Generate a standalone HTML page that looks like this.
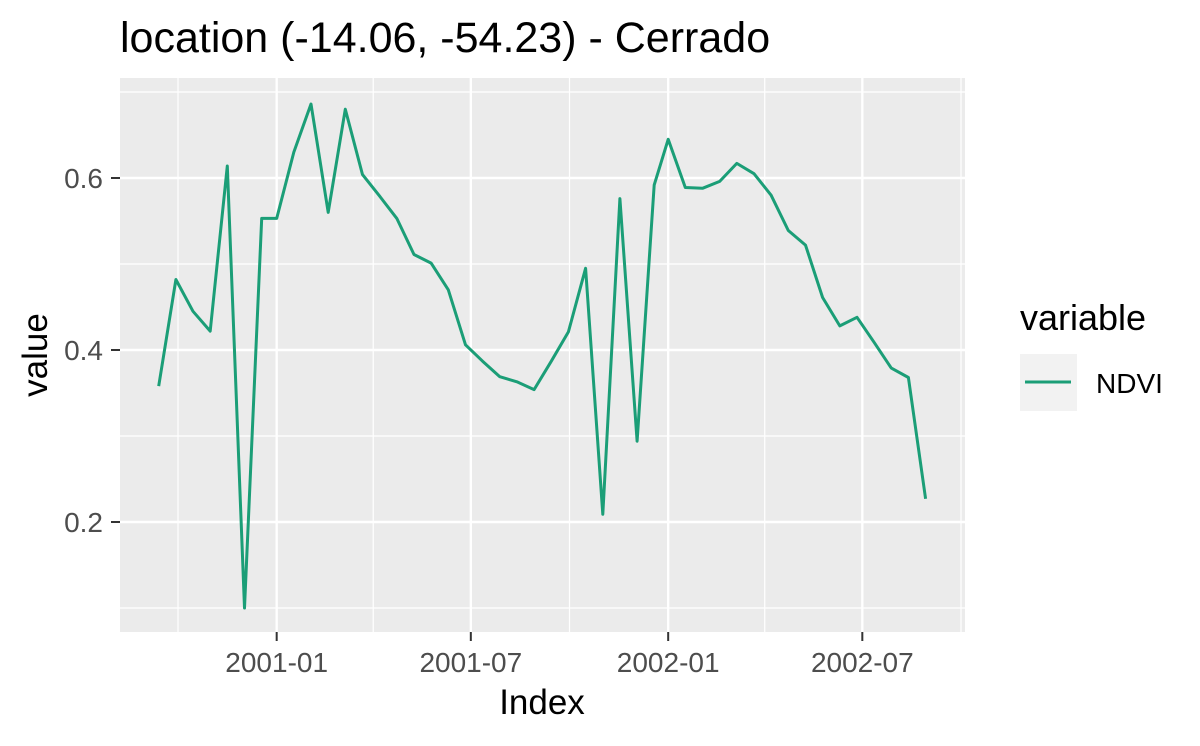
<!DOCTYPE html>
<html><head><meta charset="utf-8"><style>
body{margin:0;background:#fff;}
svg text{font-family:"Liberation Sans",sans-serif;}
</style></head><body>
<svg id="chart" width="1200" height="741" viewBox="0 0 1200 741" xmlns="http://www.w3.org/2000/svg">
<rect width="1200" height="741" fill="#fff"/>
<text x="120" y="52" font-size="43" fill="#000">location (-14.06, -54.23) - Cerrado</text>
<rect x="120" y="78" width="845" height="554" fill="#ebebeb"/>
<g id="grid"></g>
<g id="axes"></g>
<polyline id="line" fill="none" stroke="#1b9e77" stroke-width="3" stroke-linejoin="round"/>
<text x="542" y="714" font-size="35" text-anchor="middle" fill="#000">Index</text>
<text transform="translate(47,355) rotate(-90)" font-size="35" text-anchor="middle" fill="#000">value</text>
<g>
<text x="1020" y="330" font-size="36" fill="#000">variable</text>
<rect x="1020" y="354" width="57" height="57" fill="#f2f2f2"/>
<line x1="1025" y1="382" x2="1071" y2="382" stroke="#1b9e77" stroke-width="3"/>
<text x="1096" y="393" font-size="28" fill="#000">NDVI</text>
</g>
</svg>
<script>
const startYears = [2000, 2001, 2002];
const startDoys = [257, 1, 1];
const countsPerYear = [7, 23, 16];
const ndviValues = [0.358,0.482,0.445,0.422,0.614,0.100,0.553,
0.553,0.630,0.686,0.560,0.680,0.604,0.579,0.553,0.511,0.501,0.470,0.406,0.387,0.369,0.363,0.354,0.387,0.421,0.495,0.209,0.576,0.294,0.592,
0.645,0.589,0.588,0.596,0.617,0.605,0.580,0.539,0.522,0.461,0.428,0.438,0.409,0.379,0.368,0.227];
const yMajorTicks = [0.2, 0.4, 0.6];
const yMinorTicks = [0.1, 0.3, 0.5, 0.7];
const xMajorTicks = ["2001-01","2001-07","2002-01","2002-07"];
const xMinorTicks = ["2000-10","2001-04","2001-10","2002-04","2002-10"];

const NS = "http://www.w3.org/2000/svg";
const T0 = Date.UTC(2000,9,1), T1 = Date.UTC(2002,9,1);
function xScale(t){ return 178 + (t - T0) / (T1 - T0) * 783; }
function yScale(v){ return 522 - (v - 0.2) * 860; }
function monthT(s){ const [y,m]=s.split("-").map(Number); return Date.UTC(y,m-1,1); }
function mk(tag, attrs, parent){ const e=document.createElementNS(NS,tag); for(const k in attrs) e.setAttribute(k,attrs[k]); parent.appendChild(e); return e; }

const grid = document.getElementById("grid");
const axes = document.getElementById("axes");
yMinorTicks.forEach(v=>{ const l=mk("line",{x1:120,x2:965,y1:yScale(v),y2:yScale(v),stroke:"#fff","stroke-width":1.2},grid);

 });
xMinorTicks.forEach(s=>{ const x=xScale(monthT(s)); const l=mk("line",{x1:x,x2:x,y1:78,y2:632,stroke:"#fff","stroke-width":1.2},grid);

 });
yMajorTicks.forEach(v=>{ const y=yScale(v);
const l=mk("line",{x1:120,x2:965,y1:y,y2:y,stroke:"#fff","stroke-width":2.4},grid);


const tk=mk("line",{x1:111,x2:120,y1:y,y2:y,stroke:"#333","stroke-width":2},axes);


const t=mk("text",{x:103,y:y+10,"font-size":28,"text-anchor":"end",fill:"#4d4d4d"},axes);
t.textContent=v.toFixed(1);

 });
xMajorTicks.forEach(s=>{ const x=xScale(monthT(s));
const l=mk("line",{x1:x,x2:x,y1:78,y2:632,stroke:"#fff","stroke-width":2.4},grid);


const tk=mk("line",{x1:x,x2:x,y1:632,y2:641,stroke:"#333","stroke-width":2},axes);


const t=mk("text",{x:x,y:672,"font-size":28,"text-anchor":"middle",fill:"#4d4d4d"},axes);
t.textContent=s;

 });

const pts=[]; let i=0;
startYears.forEach((yr,k)=>{ for(let j=0;j<countsPerYear[k];j++){ const doy=startDoys[k]+16*j; const t=Date.UTC(yr,0,1)+(doy-1)*86400000; if(i<ndviValues.length) pts.push(xScale(t).toFixed(1)+","+yScale(ndviValues[i]).toFixed(1)); i++; } });
document.getElementById("line").setAttribute("points",pts.join(" "));
</script>
</body></html>
